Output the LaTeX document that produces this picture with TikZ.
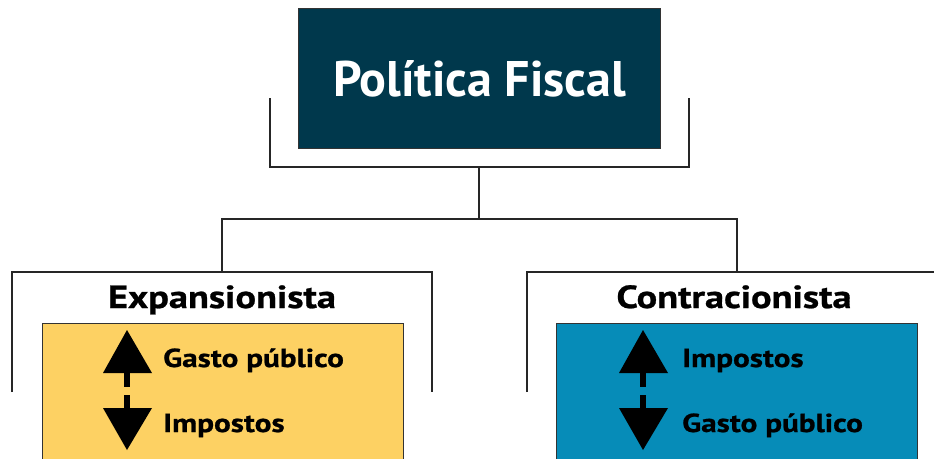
\documentclass[tikz,border=0pt]{standalone}
\usepackage{fontspec}
\setmainfont{PT Sans}
\newfontfamily\widefont[FakeStretch=1.2, FakeBold=0.8]{PT Sans}
\usetikzlibrary{positioning}
\definecolor{titlefill}{HTML}{00384C}
\definecolor{expfill}{HTML}{FDD163}
\definecolor{confill}{HTML}{068CB8}
\tikzset{
x=1pt, y=-1pt, % one unit is one pixel of the sketch, y grows downwards
bracket/.style={line width=1.4pt, draw=black!85}, % the tree lines
policybox/.style={draw=black!80, line width=0.9pt, minimum width=361pt, minimum height=150pt, anchor=north west, inner sep=0pt},
heading/.style={font=\widefont\bfseries\fontsize{32}{36}\selectfont, anchor=base},
item/.style={font=\widefont\bfseries\fontsize{26}{28}\selectfont, anchor=base west, inner sep=0pt},
updown/.pic={ % up arrow, dashed stem, down arrow
    \fill (0,0) -- (-24,43) -- (25,43) -- cycle;
    \draw[line width=6pt, dash pattern=on 14pt off 8pt] (0,43) -- (0,78);
    \fill (-24,78) -- (25,78) -- (0,120) -- cycle;
},
}

\begin{document}
\begin{tikzpicture}
            \useasboundingbox (0,0) rectangle (934,458);
            \clip (0,0) rectangle (934,458);

            \node[draw=black!80, line width=0.9pt, fill=titlefill, text=white, minimum width=362pt, minimum height=140pt, anchor=north west,
                  font=\bfseries\fontsize{50}{54}\selectfont] (title) at (298,8) {Política Fiscal};

            \node[heading] (exphead) at (222,308) {Expansionista};
            \node[heading] (conhead) at (734,308) {Contracionista};

            \node[policybox, fill=expfill] (expbox) at (42,323) {};
            \node[policybox, fill=confill] (conbox) at (556,323) {};

            \pic at (127,330) {updown};
            \pic at (643,330) {updown};
            \node[item] (expup) at (163,367) {Gasto público};
            \node[item] (expdown) at (163,432) {Impostos};
            \node[item] (conup) at (682,367) {Impostos};
            \node[item] (condown) at (682,432) {Gasto público};

            \coordinate (topfork) at (479,167);
            \coordinate (midfork) at (479,219);
            \coordinate (expfork) at (222,272);
            \coordinate (confork) at (737,272);
            \draw[bracket] (270,98) |- (topfork) -| (689,98);
            \draw[bracket] (topfork) -- (midfork);
            \draw[bracket] (expfork) |- (midfork) -| (confork);
            \draw[bracket] (12,392) |- (expfork) -| (432,392);
            \draw[bracket] (527,392) |- (confork) -| (947,392);
\end{tikzpicture}
\end{document}
